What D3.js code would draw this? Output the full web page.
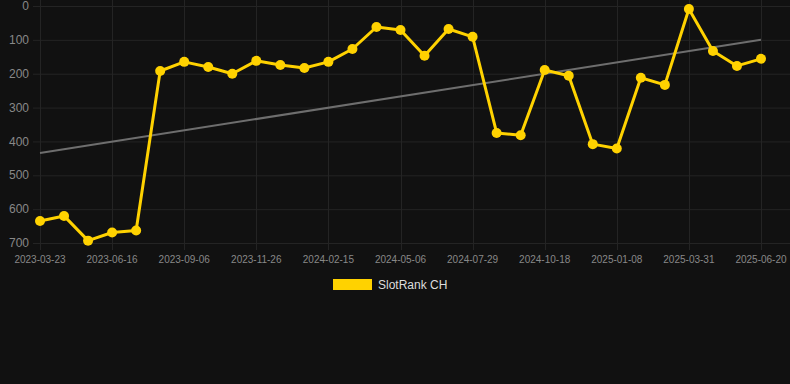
<!DOCTYPE html>
<html><head><meta charset="utf-8">
<script src="https://cdn.jsdelivr.net/npm/d3@7"></script>
<style>
html,body{margin:0;padding:0;background:#111111;}
svg{display:block;}
text{font-family:"Liberation Sans",Arial,Helvetica,sans-serif;}
</style></head>
<body><svg id="c" width="790" height="384"></svg>
<script>
const categories = ["2023-03-23","2023-04-20","2023-05-19","2023-06-16","2023-07-14","2023-08-11","2023-09-06","2023-10-04","2023-10-30","2023-11-26","2023-12-24","2024-01-20","2024-02-15","2024-03-14","2024-04-09","2024-05-06","2024-06-03","2024-07-01","2024-07-29","2024-08-26","2024-09-21","2024-10-18","2024-11-14","2024-12-12","2025-01-08","2025-02-04","2025-03-03","2025-03-31","2025-04-27","2025-05-24","2025-06-20"];
const rankValues = [635,620,693,669,663,192,165,180,200,162,174,183,165,127,62,71,147,68,91,375,382,189,206,408,421,212,233,9,133,177,156];
const trendValues = [434,100];
const tickLabels = ["2023-03-23","2023-06-16","2023-09-06","2023-11-26","2024-02-15","2024-05-06","2024-07-29","2024-10-18","2025-01-08","2025-03-31","2025-06-20"];
const yTicks = [0,100,200,300,400,500,600,700];
const seriesName = "SlotRank CH";

const svg = d3.select("#c");
const x = d3.scalePoint().domain(categories).range([40, 761]);
const y = d3.scaleLinear().domain([0, 700]).range([6, 243]);

// grid
const g = svg.append("g");
g.selectAll("line.h").data(yTicks).join("line")
  .attr("x1", 33).attr("x2", 790)
  .attr("y1", d => y(d)+0.5).attr("y2", d => y(d)+0.5)
  .attr("stroke", "#242424").attr("stroke-width", 1);
g.selectAll("line.v").data(tickLabels).join("line")
  .attr("x1", d => Math.round(x(d))+0.5).attr("x2", d => Math.round(x(d))+0.5)
  .attr("y1", 0).attr("y2", 250)
  .attr("stroke", "#242424").attr("stroke-width", 1);

// y labels
svg.append("g").selectAll("text").data(yTicks).join("text")
  .attr("x", 29).attr("y", d => y(d)).attr("dy", "0.35em")
  .attr("text-anchor", "end").attr("fill", "#888").attr("font-size", 12)
  .text(d => d);

// x labels
svg.append("g").selectAll("text").data(tickLabels).join("text")
  .attr("x", d => x(d)).attr("y", 263)
  .attr("text-anchor", "middle").attr("fill", "#888").attr("font-size", 10)
  .text(d => d);

// trend
svg.append("line")
  .attr("x1", x(categories[0])).attr("y1", y(trendValues[0]))
  .attr("x2", x(categories[categories.length-1])).attr("y2", y(trendValues[1]))
  .attr("stroke", "#6e6e6e").attr("stroke-width", 2);

// series line
const color = "#FFD200";
svg.append("path").datum(rankValues)
  .attr("fill", "none").attr("stroke", color).attr("stroke-width", 3)
  .attr("stroke-linejoin", "round")
  .attr("d", d3.line().x((d,i) => x(categories[i])).y(d => y(d)));
svg.append("g").selectAll("circle").data(rankValues).join("circle")
  .attr("cx", (d,i) => x(categories[i])).attr("cy", d => y(d))
  .attr("r", 5).attr("fill", color);

// legend
svg.append("rect").attr("x", 333).attr("y", 279).attr("width", 39).attr("height", 11).attr("fill", color);
svg.append("text").attr("x", 378).attr("y", 285).attr("dy", "0.35em")
  .attr("fill", "#ddd").attr("font-size", 12).text(seriesName);
</script>
</body></html>
